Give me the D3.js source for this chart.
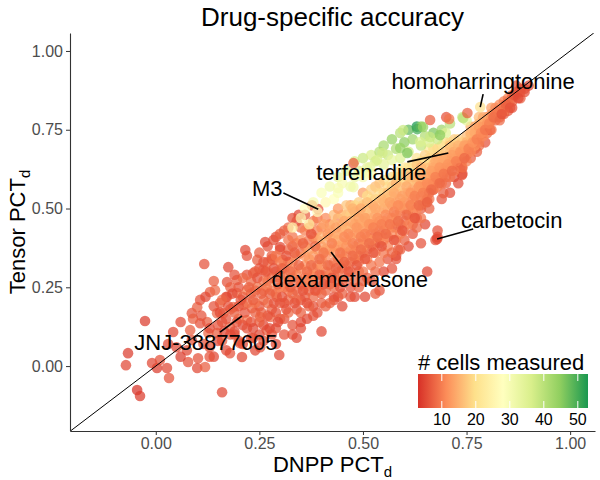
<!DOCTYPE html>
<html>
<head>
<meta charset="utf-8">
<script src="https://cdn.jsdelivr.net/npm/d3@7"></script>
<style>
  body { margin: 0; background: #fff; }
  svg { font-family: "Liberation Sans", Arial, sans-serif; }
</style>
</head>
<body>
<svg id="plot" width="600" height="480"></svg>
<script>
// [DNPP PCT_d, Tensor PCT_d, # cells measured]
const lowTail = [
  [.117,.324,6],[.175,.314,5],[.216,.368,5],[-.026,.143,4],[-.072,.003,5],[-.067,.041,4],[-.045,-.076,3],[-.038,-.095,4],
  [.16,-.083,5],[.032,-.038,6],[.027,-.006,5],[.003,-.006,4],[-.009,.01,5],[.01,.019,6],[.042,.108,5],[.078,.013,6],
  [.1,-.006,5],[.119,-.003,7],[.102,.025,6],[.075,.05,5],[.087,.083,6],[.083,.114,7],[.087,.168,6],[.1,.187,7],
  [.107,.21,6],[.131,.235,7],[.143,.241,8],[.155,.2,7],[.148,.168,8],[.172,.267,6],[.196,.273,7],[.124,.14,7],
  [.107,.136,6],[.127,.105,8],[.148,.105,7],[.179,.041,6],[.208,.029,5],[.203,.073,7],[.235,.089,6],[.268,.114,7],
  [.298,.035,5],[.252,.06,6],[.179,.124,8],[.163,.168,9],[.187,.187,8],[.211,.194,9],[.232,.184,8],[.252,.156,9],
  [.276,.156,8],[.22,.146,9],[.172,.219,8],[.196,.232,9],[.22,.241,10],[.245,.251,9],[.268,.251,10],[.292,.219,9],
  [.235,.295,8],[.259,.305,9],[.283,.337,8],[.245,.337,7],[.307,.337,9],[.295,.283,10],
  [.05,.06,5],[.06,.03,4],[.13,.06,6],[.14,.03,5],[.16,.08,7],[.19,.10,8],[.115,.07,6],[.06,.14,5],[.03,.07,5],[.09,.15,7]
];

const bandCore = [
  [.16,.14,6],[.17,.22,5],[.18,.10,6],[.19,.17,7],[.20,.25,6],[.21,.13,5],[.22,.20,8],[.22,.29,6],[.23,.09,6],[.24,.17,7],
  [.24,.24,8],[.25,.31,6],[.26,.13,5],[.26,.21,8],[.27,.27,9],[.28,.18,7],[.28,.34,6],[.29,.23,8],[.29,.12,6],[.30,.29,8],
  [.30,.20,7],[.31,.15,6],[.31,.25,9],[.32,.33,7],[.32,.21,8],[.33,.28,10],[.33,.38,6],[.34,.18,6],[.34,.24,8],[.35,.31,11],
  [.35,.36,8],[.35,.14,5],[.36,.22,7],[.36,.28,9],[.37,.34,12],[.37,.40,9],[.38,.19,6],[.38,.26,8],[.38,.31,10],[.39,.37,13],
  [.39,.43,10],[.40,.23,7],[.40,.29,9],[.40,.34,11],[.41,.40,14],[.41,.27,8],[.42,.32,9],[.42,.37,12],[.42,.45,10],[.43,.22,6],
  [.43,.29,9],[.43,.41,15],[.44,.34,10],[.44,.38,13],[.44,.47,11],[.45,.27,7],[.45,.31,9],[.45,.43,14],[.46,.36,11],[.46,.40,13],
  [.46,.48,15],[.47,.33,9],[.47,.44,16],[.47,.51,12],[.48,.38,10],[.48,.42,14],[.48,.47,17],[.49,.35,8],[.49,.45,15],[.49,.52,18],
  [.50,.40,11],[.50,.48,16],[.50,.55,13],[.51,.37,9],[.51,.44,12],[.51,.50,17],[.52,.42,10],[.52,.47,14],[.52,.53,19],[.53,.39,8],
  [.53,.45,13],[.53,.57,16],[.54,.49,15],[.54,.52,18],[.54,.43,9],[.55,.46,11],[.55,.55,17],[.55,.59,20],[.56,.41,7],[.56,.50,14],
  [.57,.47,10],[.57,.54,16],[.57,.60,19],[.58,.44,9],[.58,.52,13],[.58,.57,18],[.59,.49,11],[.59,.62,21],[.60,.55,15],[.60,.46,8],
  [.61,.52,12],[.61,.58,17],[.61,.63,20],[.62,.49,9],[.62,.56,14],[.62,.61,18],[.63,.53,11],[.63,.59,16],[.63,.66,21],[.64,.57,13],
  [.64,.62,17],[.64,.51,9],[.65,.60,15],[.65,.65,19],[.65,.55,10],[.66,.58,12],[.66,.63,16],[.66,.69,22],[.67,.61,14],[.67,.66,18],
  [.67,.56,9],[.68,.64,15],[.68,.69,19],[.68,.59,10],[.69,.62,12],[.69,.67,17],[.70,.65,13],[.70,.71,20],[.70,.60,9],[.71,.68,16],
  [.71,.63,11],[.72,.66,14],[.72,.72,18],[.73,.69,15],[.73,.64,10],[.74,.71,17],[.74,.67,12],[.75,.73,16],[.75,.69,13],[.76,.71,11],
  [.76,.76,15],[.77,.73,13],[.77,.69,9],[.78,.75,12],[.78,.79,16],[.79,.74,10],[.79,.77,14],[.80,.79,11],[.80,.76,8],[.81,.78,10],
  [.81,.82,13],[.82,.80,10],[.83,.83,11],[.83,.79,7],[.84,.82,9],[.85,.85,10],[.85,.81,6],[.86,.84,8],[.87,.86,9],[.88,.87,7],
  [.89,.88,6],[.90,.89,5],[.87,.89,6]
];

const bandFill = [
  [.13,.12,5],[.14,.19,6],[.15,.08,5],[.17,.15,6],[.18,.25,7],[.19,.11,5],[.20,.19,6],[.21,.28,8],[.21,.07,5],[.23,.14,6],
  [.23,.23,8],[.24,.30,7],[.25,.19,6],[.25,.10,5],[.26,.27,9],[.27,.16,6],[.27,.33,8],[.28,.24,9],[.29,.30,7],[.29,.17,6],
  [.30,.25,10],[.31,.31,9],[.31,.20,6],[.32,.27,9],[.32,.37,8],[.33,.23,7],[.33,.33,11],[.34,.29,10],[.34,.39,9],[.35,.26,8],
  [.35,.21,6],[.36,.32,11],[.36,.38,10],[.37,.24,7],[.37,.29,10],[.38,.35,12],[.38,.41,10],[.39,.27,8],[.39,.32,9],[.40,.38,13],
  [.40,.44,11],[.41,.30,8],[.41,.35,11],[.42,.41,14],[.42,.26,7],[.43,.33,9],[.43,.38,12],[.43,.45,16],[.44,.30,8],[.44,.42,14],
  [.45,.36,10],[.45,.39,12],[.45,.48,17],[.46,.32,8],[.46,.44,15],[.47,.37,9],[.47,.41,12],[.47,.48,18],[.48,.34,8],[.48,.45,13],
  [.48,.51,19],[.49,.39,9],[.49,.42,12],[.49,.49,16],[.50,.36,8],[.50,.44,13],[.50,.51,18],[.51,.41,10],[.51,.47,15],[.51,.54,20],
  [.52,.38,8],[.52,.45,12],[.52,.50,16],[.53,.42,9],[.53,.48,14],[.53,.53,18],[.54,.46,11],[.54,.55,19],[.54,.39,7],[.55,.43,9],
  [.55,.50,14],[.56,.47,11],[.56,.53,16],[.56,.57,19],[.57,.44,8],[.57,.51,13],[.58,.48,10],[.58,.55,15],[.58,.60,20],[.59,.45,8],
  [.59,.53,13],[.59,.57,17],[.60,.50,10],[.60,.59,18],[.60,.63,22],[.61,.55,14],[.61,.48,8],[.62,.53,11],[.62,.59,16],[.63,.56,13],
  [.63,.62,18],[.64,.54,10],[.64,.60,15],[.64,.65,20],[.65,.57,12],[.65,.63,17],[.66,.55,8],[.66,.61,14],[.66,.66,19],[.67,.59,11],
  [.67,.64,16],[.68,.62,13],[.68,.67,18],[.69,.60,9],[.69,.65,15],[.69,.70,20],[.70,.63,11],[.70,.68,17],[.71,.66,13],[.71,.71,19],
  [.72,.64,10],[.72,.69,16],[.73,.67,12],[.73,.72,18],[.74,.69,14],[.74,.65,8],[.75,.71,15],[.75,.67,10],[.76,.73,16],[.77,.71,11],
  [.77,.76,14],[.78,.73,10],[.78,.77,15],[.79,.76,12],[.80,.78,14],[.80,.74,8],[.81,.80,12],[.82,.78,8],[.82,.82,11],[.83,.81,9],
  [.84,.84,10],[.84,.80,7],[.85,.83,8],[.86,.86,9],[.86,.82,6],[.88,.85,7],[.89,.87,6],
  [.27,.38,6],[.29,.41,6],[.31,.43,7],[.33,.47,6],[.35,.44,8],[.30,.37,7],[.32,.40,9],[.34,.46,6],[.36,.48,7],[.37,.44,10],
  [.39,.47,9],[.28,.35,7],[.26,.33,6],[.264,.394,5],[.284,.40,6],[.30,.378,5],[.345,.48,5]
];

const bandDense = [
  [.11,.16,6],[.12,.22,5],[.13,.03,6],[.14,.27,7],[.15,.13,6],[.16,.21,8],[.17,.05,5],[.18,.18,7],[.19,.29,6],[.20,.08,6],
  [.20,.15,8],[.21,.22,7],[.22,.12,6],[.22,.35,6],[.23,.27,8],[.24,.05,5],[.24,.20,9],[.25,.14,7],[.25,.36,7],[.26,.24,9],
  [.26,.08,6],[.27,.20,8],[.27,.30,9],[.28,.10,6],[.28,.28,8],[.29,.35,9],[.29,.07,5],[.30,.15,7],[.30,.33,10],[.30,.42,7],
  [.31,.28,9],[.31,.10,6],[.32,.17,8],[.32,.24,9],[.32,.44,8],[.33,.13,6],[.33,.30,10],[.33,.41,9],[.34,.21,8],[.34,.35,10],
  [.34,.09,5],[.35,.17,7],[.35,.40,11],[.36,.25,9],[.36,.35,12],[.36,.43,10],[.37,.19,7],[.37,.27,10],[.37,.37,13],[.38,.22,8],
  [.38,.29,11],[.38,.46,10],[.39,.17,6],[.39,.24,9],[.39,.40,12],[.40,.20,7],[.40,.32,12],[.40,.41,15],[.41,.24,8],[.41,.37,13],
  [.41,.47,11],[.42,.20,7],[.42,.29,10],[.42,.43,14],[.43,.25,8],[.43,.36,12],[.43,.48,16],[.44,.27,9],[.44,.40,14],[.44,.50,12],
  [.45,.23,7],[.45,.34,11],[.45,.45,15],[.46,.28,9],[.46,.38,12],[.46,.51,17],[.47,.22,6],[.47,.30,9],[.47,.46,14],[.48,.27,8],
  [.48,.36,11],[.48,.49,15],[.49,.25,7],[.49,.33,10],[.49,.47,13],[.50,.30,9],[.50,.38,12],[.50,.46,14],
  [.51,.28,7],[.51,.34,10],[.51,.52,16],[.52,.32,9],[.52,.40,12],[.52,.56,18],[.53,.30,8],[.53,.36,10],[.53,.50,14],[.54,.33,9],
  [.54,.41,11],[.54,.58,17],[.55,.36,9],[.55,.40,11],[.55,.52,15],[.56,.38,10],[.56,.44,12],[.56,.55,16],[.57,.36,8],[.57,.42,11],
  [.57,.57,18],[.58,.40,9],[.58,.46,12],[.58,.58,15],[.59,.42,10],[.59,.51,13],[.59,.60,19],[.60,.43,9],[.60,.52,12],[.60,.61,17],
  [.61,.45,10],[.61,.50,12],[.61,.60,16],[.62,.47,11],[.62,.51,13],[.62,.64,20],[.63,.44,8],[.63,.50,11],[.63,.64,17],[.64,.47,9],
  [.64,.58,13],[.64,.63,15],[.65,.52,10],[.65,.58,12],[.65,.67,18],
  [.66,.53,9],[.66,.60,13],[.67,.58,11],[.67,.63,14],[.67,.69,19],[.68,.57,10],[.68,.61,12],[.68,.66,15],[.69,.58,9],[.69,.64,13],
  [.70,.62,11],[.70,.66,14],[.71,.60,9],[.71,.65,12],[.71,.70,16],[.72,.62,10],[.72,.68,14],[.73,.66,12],[.73,.70,15],[.74,.63,9],
  [.74,.68,13],[.75,.65,10],[.75,.70,14],[.76,.68,11],[.76,.74,15],[.77,.70,12],[.77,.74,14],[.78,.71,10],[.78,.76,13],[.79,.73,11],
  [.79,.79,14],[.80,.77,12],[.81,.75,9],[.81,.79,12],[.82,.80,11],[.83,.78,8],[.84,.81,10],[.85,.84,9],[.86,.85,8],[.87,.87,7],
  [.88,.88,6]
];

const bandDeep = [
  [.155,.17,5],[.165,.11,5],[.175,.19,6],[.185,.23,5],[.195,.14,6],[.205,.21,6],[.215,.17,6],[.225,.25,7],[.235,.12,5],[.235,.21,7],
  [.245,.28,6],[.255,.17,7],[.255,.23,7],[.265,.30,6],[.275,.12,5],[.275,.23,7],[.285,.20,6],[.285,.31,6],[.295,.26,7],[.295,.14,5],
  [.305,.22,6],[.305,.31,7],[.315,.18,6],[.315,.35,6],[.325,.25,7],[.325,.30,8],[.335,.20,6],[.335,.36,7],[.345,.27,8],[.345,.32,7],
  [.355,.24,6],[.355,.39,7],[.365,.30,8],[.365,.20,6],[.375,.32,8],[.375,.42,6],[.385,.24,6],[.385,.38,8],[.395,.29,7],[.395,.34,8],
  [.405,.26,6],[.405,.36,9],[.405,.45,13],[.415,.32,8],[.415,.42,12],[.425,.28,6],[.425,.39,10],[.435,.31,7],[.435,.44,13],[.445,.36,9],
  [.445,.25,6],[.455,.33,7],[.455,.41,11],[.455,.46,14],[.465,.30,6],[.465,.42,11],[.475,.35,8],[.475,.39,10],[.475,.50,15],[.485,.32,6],
  [.485,.44,12],[.495,.37,8],[.495,.41,10],[.495,.50,14],[.505,.34,6],[.505,.42,10],[.505,.47,13],[.515,.39,8],[.515,.45,12],[.525,.36,6],
  [.525,.44,10],[.525,.51,14],[.535,.41,8],[.535,.47,12],[.545,.38,6],[.545,.45,10],[.545,.53,15],[.555,.42,8],[.555,.48,11],[.565,.45,9],
  [.565,.52,13],[.575,.40,6],[.575,.49,10],[.575,.55,14],[.585,.46,8],[.585,.51,11],[.595,.43,6],[.595,.54,13],
  [.605,.48,8],[.605,.57,14],[.615,.51,10],[.615,.55,12],[.625,.47,6],[.625,.54,10],[.625,.60,15],[.635,.51,8],[.635,.57,12],[.645,.55,10],
  [.645,.60,14],[.655,.52,7],[.655,.58,11],[.665,.56,8],[.665,.62,13],[.675,.60,10],[.675,.65,14],[.685,.58,8],[.685,.63,12],[.695,.61,9],
  [.695,.66,14],[.705,.64,12],[.715,.62,8],[.715,.67,13],[.725,.65,10],[.735,.68,12],[.745,.66,8],[.745,.70,13],[.755,.69,10],[.765,.71,12],
  [.775,.72,10],[.785,.74,11],[.795,.75,9],[.805,.77,10],[.815,.79,8],[.825,.81,9],[.835,.80,6],[.845,.83,7],[.855,.82,6],[.865,.86,6],
  [.875,.85,5]
];

const belowOutliers = [
  [.68,.41,5],[.68,.43,6],[.65,.45,5],[.66,.50,7],[.69,.53,6],[.67,.56,8],[.74,.61,6],[.735,.63,5],[.775,.68,7],[.795,.71,6],
  [.61,.38,5],[.64,.39,6],[.585,.37,7],[.58,.35,5],[.655,.53,8],[.64,.50,7],[.63,.47,6],[.655,.30,5],[.675,.40,6],[.505,.22,5],
  [.54,.24,6],[.40,.11,5],[.58,.34,6],[.59,.37,7],[.52,.27,6],[.48,.22,5],[.43,.21,6],[.41,.19,7],[.365,.15,5],[.53,.23,7],
  [.44,.22,6],[.70,.58,7],[.72,.60,6],[.62,.42,6],[.60,.40,7],[.57,.31,6],[.55,.30,5],[.50,.27,7],[.47,.25,6],[.45,.19,5],
  [.62,.45,8],[.71,.55,5],[.76,.66,7],[.78,.70,8],[.73,.58,5],[.56,.34,6],[.49,.30,8],[.38,.16,6],[.35,.12,5],[.33,.10,6],
  [.807,.749,6],[.739,.629,5],[.739,.606,6],[.694,.549,7],[.679,.403,5],[.392,.498,6],[.377,.51,7]
];

const upperEdge = [
  [.33,.44,24],[.35,.47,26],[.36,.50,28],[.37,.45,22],[.38,.52,30],[.39,.49,27],[.40,.55,29],[.41,.52,26],[.42,.57,31],[.43,.53,28],
  [.44,.55,29],[.44,.60,33],[.45,.58,30],[.46,.62,34],[.47,.57,31],[.48,.60,32],[.48,.65,36],[.49,.62,35],[.50,.60,30],[.50,.66,38],
  [.51,.63,33],[.52,.67,36],[.52,.61,29],[.53,.65,37],[.54,.68,40],[.55,.64,34],[.55,.70,42],[.56,.67,38],[.57,.72,44],[.58,.69,41],
  [.59,.66,35],[.59,.74,40],[.60,.71,45],[.61,.68,37],[.61,.75,48],[.62,.72,43],[.63,.76,53],[.64,.70,39],[.64,.76,44],[.65,.73,41],
  [.66,.71,36],[.67,.74,46],[.68,.72,38],[.69,.75,43],[.70,.74,35],[.71,.77,40],[.74,.79,38],[.75,.78,33],
  [.631,.752,50],[.645,.759,44],[.597,.749,38],[.59,.692,44],[.607,.676,46],[.547,.676,37],[.534,.654,36],[.57,.654,33],
  [.517,.632,33],[.498,.613,30],[.477,.568,31],[.44,.565,30],[.638,.711,36],[.662,.727,38],[.686,.733,45],[.742,.787,40],
  [.701,.79,6],[.477,.644,7],[.662,.781,7],[.708,.784,9],[.752,.803,7],[.783,.822,20]
];

const xTicks = [0, 0.25, 0.5, 0.75, 1];
const yTicks = [0, 0.25, 0.5, 0.75, 1];
const legendTicks = [10, 20, 30, 40, 50];
const cellRange = [3, 53];
const paletteRdYlGn = ["#d73027", "#fc8d59", "#fee08b", "#ffffbf", "#d9ef8b", "#91cf60", "#1a9850"];

const drugLabels = [
  { name: "homoharringtonine", tx: .79, ty: .879, x1: .79, y1: .863, x2: .783, y2: .822 },
  { name: "terfenadine", tx: .52, ty: .59, x1: .607, y1: .648, x2: .706, y2: .676 },
  { name: "M3", tx: .269, ty: .54, x1: .308, y1: .549, x2: .392, y2: .498 },
  { name: "carbetocin", tx: .859, ty: .438, x1: .766, y1: .435, x2: .679, y2: .403 },
  { name: "dexamethasone", tx: .468, ty: .251, x1: .423, y1: .362, x2: .452, y2: .311 },
  { name: "JNJ-38877605", tx: .121, ty: .051, x1: .155, y1: .108, x2: .208, y2: .159 }
];

const svg = d3.select("#plot");
const margin = { top: 33, right: 5, bottom: 49, left: 70 };
const width = 600 - margin.left - margin.right;
const height = 480 - margin.top - margin.bottom;

const x = d3.scaleLinear().domain([-0.207, 1.06]).range([0, width]);
const y = d3.scaleLinear().domain([-0.206, 1.057]).range([height, 0]);

const stops = paletteRdYlGn.map((c, i) => cellRange[0] + i * (cellRange[1] - cellRange[0]) / (paletteRdYlGn.length - 1));
const color = d3.scaleLinear().domain(stops).range(paletteRdYlGn).interpolate(d3.interpolateRgb);

const g = svg.append("g").attr("transform", `translate(${margin.left},${margin.top})`);

g.append("clipPath").attr("id", "clip")
  .append("rect").attr("width", width).attr("height", height);

// points in drawing order; the high-count crest goes last
const points = [].concat(lowTail, bandCore, bandFill, belowOutliers, bandDense, bandDeep, upperEdge);

g.append("g").attr("clip-path", "url(#clip)")
  .selectAll("circle")
  .data(points)
  .join("circle")
  .attr("cx", d => x(d[0]))
  .attr("cy", d => y(d[1]))
  .attr("r", 5.3)
  .attr("fill", d => color(d[2]))
  .attr("fill-opacity", 0.72);

// identity line
g.append("line")
  .attr("clip-path", "url(#clip)")
  .attr("x1", x(x.domain()[0])).attr("y1", y(x.domain()[0]))
  .attr("x2", x(y.domain()[1])).attr("y2", y(y.domain()[1]))
  .attr("stroke", "#000").attr("stroke-width", 1);

// axes
const xAxis = g.append("g")
  .attr("transform", `translate(0,${height})`)
  .call(d3.axisBottom(x).tickValues(xTicks).tickFormat(d3.format(".2f")).tickSize(4).tickPadding(3).tickSizeOuter(0));
const yAxis = g.append("g")
  .call(d3.axisLeft(y).tickValues(yTicks).tickFormat(d3.format(".2f")).tickSize(4).tickPadding(3).tickSizeOuter(0));

[xAxis, yAxis].forEach(a => {
  a.select(".domain").attr("stroke", "#333").attr("stroke-width", 1.1);
  a.selectAll(".tick line").attr("stroke", "#333");
  a.selectAll(".tick text").attr("fill", "#4d4d4d").style("font-size", "16px")
    .style("font-family", "Liberation Sans, Arial, sans-serif");
});

// labels
const lab = g.append("g");
lab.selectAll("line")
  .data(drugLabels)
  .join("line")
  .attr("x1", d => x(d.x1)).attr("y1", d => y(d.y1))
  .attr("x2", d => x(d.x2)).attr("y2", d => y(d.y2))
  .attr("stroke", "#000").attr("stroke-width", 1.6);
lab.selectAll("text")
  .data(drugLabels)
  .join("text")
  .attr("x", d => x(d.tx)).attr("y", d => y(d.ty))
  .attr("text-anchor", "middle")
  .style("font-size", "22px")
  .attr("fill", "#000")
  .text(d => d.name);

// titles
svg.append("text")
  .attr("x", margin.left + width / 2).attr("y", 26)
  .attr("text-anchor", "middle")
  .style("font-size", "26px")
  .text("Drug-specific accuracy");

const xt = svg.append("text")
  .attr("x", margin.left + width / 2).attr("y", 472)
  .attr("text-anchor", "middle")
  .style("font-size", "22px");
xt.append("tspan").text("DNPP PCT");
xt.append("tspan").attr("dy", 5).style("font-size", "15px").text("d");

const yt = svg.append("text")
  .attr("transform", `translate(25,${margin.top + height / 2}) rotate(-90)`)
  .attr("text-anchor", "middle")
  .style("font-size", "22px");
yt.append("tspan").text("Tensor PCT");
yt.append("tspan").attr("dy", 5).style("font-size", "15px").text("d");

// colour legend
const legX = 418, legY = 374, legW = 170, legH = 34;
const grad = svg.append("defs").append("linearGradient").attr("id", "cellsGrad");
stops.forEach((s, i) => {
  grad.append("stop")
    .attr("offset", `${(s - cellRange[0]) / (cellRange[1] - cellRange[0]) * 100}%`)
    .attr("stop-color", paletteRdYlGn[i]);
});
const lg = svg.append("g");
lg.append("text")
  .attr("x", legX).attr("y", 370)
  .style("font-size", "22px")
  .text("# cells measured");
lg.append("rect")
  .attr("x", legX).attr("y", legY).attr("width", legW).attr("height", legH)
  .attr("fill", "url(#cellsGrad)");
const lx = d3.scaleLinear().domain(cellRange).range([legX, legX + legW]);
legendTicks.forEach(t => {
  lg.append("line").attr("x1", lx(t)).attr("x2", lx(t))
    .attr("y1", legY).attr("y2", legY + 7).attr("stroke", "#fff");
  lg.append("line").attr("x1", lx(t)).attr("x2", lx(t))
    .attr("y1", legY + legH - 7).attr("y2", legY + legH).attr("stroke", "#fff");
  lg.append("text").attr("x", lx(t)).attr("y", 425)
    .attr("text-anchor", "middle")
    .style("font-size", "16px")
    .text(t);
});
</script>
</body>
</html>
